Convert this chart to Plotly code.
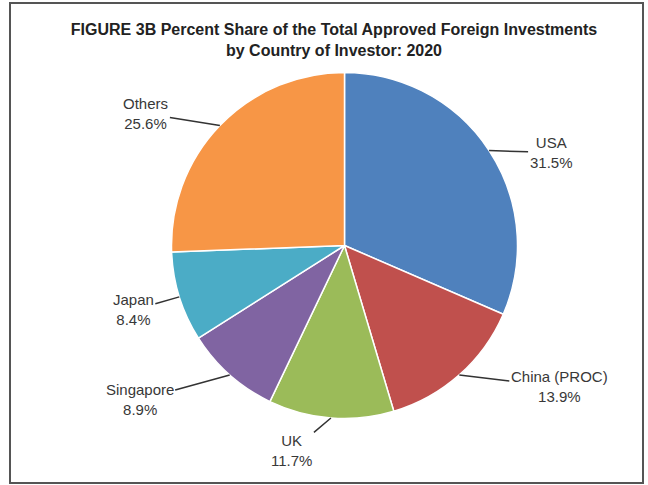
import numpy as np
import plotly.graph_objects as go

countries = ["USA", "China (PROC)", "UK", "Singapore", "Japan", "Others"]
shares = [31.5, 13.9, 11.7, 8.9, 8.4, 25.6]
colors = ["#4F81BD", "#C0504D", "#9BBB59", "#8064A2", "#4BACC6", "#F79646"]
# label text offsets (px) from the slice edge
label_dx = [62, 100, -39, -90, -46, -74]
label_dy = [2, 12, 33, 25, 13, -12]

W, H = 648, 485
cx, cy, R = 344.5, 245.5, 173.0

fig = go.Figure()
fig.add_trace(go.Pie(
    labels=countries, values=shares, sort=False, direction="clockwise", rotation=0,
    marker=dict(colors=colors, line=dict(color="white", width=1.5)),
    textinfo="none", hoverinfo="label+percent", showlegend=False,
    domain=dict(x=[(cx - R) / W, (cx + R) / W], y=[1 - (cy + R) / H, 1 - (cy - R) / H]),
))

vals = np.array(shares, dtype=float)
cum = np.cumsum(vals) - vals / 2
theta = cum / vals.sum() * 2 * np.pi
annotations = []
for name, v, th, dx, dy in zip(countries, shares, theta, label_dx, label_dy):
    px = cx + R * np.sin(th)
    py = cy - R * np.cos(th)
    annotations.append(dict(
        x=px / W, y=1 - py / H, xref="paper", yref="paper",
        text=f"{name}<br>{v:.1f}%", showarrow=True, arrowhead=0, arrowwidth=1.5,
        arrowcolor="#333333", ax=dx, ay=dy, align="center",
        font=dict(family="Liberation Sans, Arial, sans-serif", size=15, color="#383838"),
    ))

fig.update_layout(
    width=W, height=H, margin=dict(l=0, r=0, t=0, b=0),
    paper_bgcolor="white", plot_bgcolor="white",
    title=dict(
        text="<b>FIGURE 3B Percent Share of the Total Approved Foreign Investments<br>by Country of Investor: 2020</b>",
        x=334 / W, xanchor="center", y=1 - 35 / H, yanchor="middle", yref="container",
        font=dict(family="Liberation Sans, Arial, sans-serif", size=16, color="#222222"),
    ),
    annotations=annotations,
    shapes=[dict(type="rect", xref="paper", yref="paper",
                 x0=10 / W, x1=643 / W, y0=1 - 483 / H, y1=1 - 3 / H,
                 line=dict(color="#555555", width=2))],
)
fig.write_html("out.html", config={"displayModeBar": False},
               post_script="document.body.style.margin='0';document.body.style.overflow='hidden';")
